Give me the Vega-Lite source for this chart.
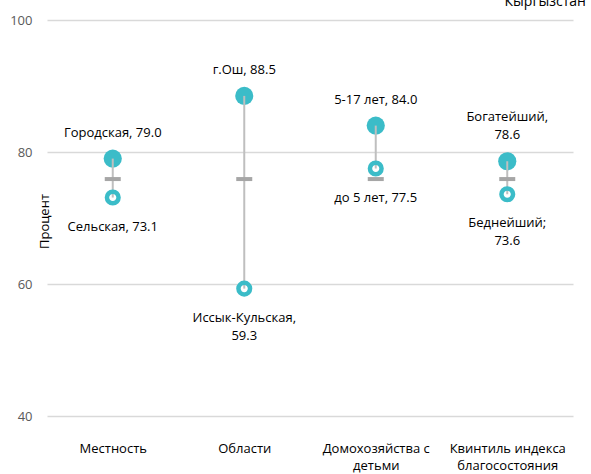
{
  "$schema": "https://vega.github.io/schema/vega-lite/v6.json",
  "width": 526,
  "height": 396,
  "autosize": {"type": "none"},
  "padding": {"left": 47, "top": 20, "right": 18, "bottom": 58},
  "background": "white",
  "data": {
    "values": [
      {"cat": "Местность", "high": 79.0, "low": 73.1, "national": 75.9, "highLine1": "", "highLine2": "Городская,  79.0", "lowLabel": "Сельская, 73.1"},
      {"cat": "Области", "high": 88.5, "low": 59.3, "national": 75.9, "highLine1": "", "highLine2": "г.Ош, 88.5", "lowLabel": ["Иссык-Кульская,", "59.3"]},
      {"cat": "Домохозяйства с детьми", "high": 84.0, "low": 77.5, "national": 75.9, "highLine1": "", "highLine2": "5-17 лет, 84.0", "lowLabel": "до 5 лет, 77.5"},
      {"cat": "Квинтиль индекса благосостояния", "high": 78.6, "low": 73.6, "national": 75.9, "highLine1": "Богатейший,", "highLine2": "78.6", "lowLabel": ["Беднейший;", "73.6"]}
    ]
  },
  "encoding": {
    "x": {
      "field": "cat",
      "type": "nominal",
      "sort": null,
      "scale": {"type": "point", "padding": 0.5},
      "axis": {
        "title": null,
        "domain": false,
        "ticks": false,
        "labelAngle": 0,
        "labelPadding": 26,
        "labelBaseline": "top",
        "labelFontSize": 13,
        "labelLineHeight": 17,
        "labelColor": "#000000",
        "labelFont": "Open Sans",
        "labelExpr": "datum.value === 'Домохозяйства с детьми' ? ['Домохозяйства  с', 'детьми'] : datum.value === 'Квинтиль индекса благосостояния' ? ['Квинтиль индекса', 'благосостояния'] : datum.value"
      }
    }
  },
  "layer": [
    {
      "mark": {"type": "circle", "size": 330, "color": "#3BBCC8", "opacity": 1},
      "encoding": {
        "y": {
          "field": "high",
          "type": "quantitative",
          "scale": {"domain": [40, 100], "nice": false, "zero": false},
          "axis": {
            "values": [40, 60, 80, 100],
            "title": "Процент",
            "titleFont": "Open Sans",
            "titleFontSize": 13,
            "titleFontWeight": "normal",
            "titleColor": "#000000",
            "titleAngle": -90,
            "titleX": 1,
            "titleY": 201,
            "titleBaseline": "alphabetic",
            "titleAlign": "center",
            "domain": false,
            "ticks": false,
            "labelPadding": 15,
            "labelFontSize": 13,
            "labelFont": "Open Sans",
            "labelColor": "#595959",
            "gridColor": "#D9D9D9",
            "gridWidth": 1.5
          }
        }
      }
    },
    {
      "mark": {"type": "rule", "color": "#BFBFBF", "strokeWidth": 2},
      "encoding": {
        "y": {"field": "high", "type": "quantitative"},
        "y2": {"field": "low"}
      }
    },
    {
      "mark": {"type": "point", "shape": "circle", "filled": false, "stroke": "#3BBCC8", "strokeWidth": 4.5, "size": 135, "opacity": 1},
      "encoding": {
        "y": {"field": "low", "type": "quantitative"}
      }
    },
    {
      "mark": {"type": "tick", "color": "#A6A6A6", "size": 16, "thickness": 4, "orient": "horizontal", "opacity": 1},
      "encoding": {
        "y": {"field": "national", "type": "quantitative"}
      }
    },
    {
      "mark": {"type": "text", "baseline": "bottom", "dy": -19, "fontSize": 13, "font": "Open Sans", "color": "#000000"},
      "encoding": {
        "y": {"field": "high", "type": "quantitative"},
        "text": {"field": "highLine2", "type": "nominal"}
      }
    },
    {
      "mark": {"type": "text", "baseline": "bottom", "dy": -37, "fontSize": 13, "font": "Open Sans", "color": "#000000"},
      "encoding": {
        "y": {"field": "high", "type": "quantitative"},
        "text": {"field": "highLine1", "type": "nominal"}
      }
    },
    {
      "mark": {"type": "text", "baseline": "top", "dy": 23, "fontSize": 13, "font": "Open Sans", "color": "#000000", "lineHeight": 18},
      "encoding": {
        "y": {"field": "low", "type": "quantitative"},
        "text": {"field": "lowLabel", "type": "nominal"}
      }
    },
    {
      "data": {"values": [{"note": "Кыргызстан", "cat": "Квинтиль индекса благосостояния", "pos": 102.1}]},
      "mark": {"type": "text", "baseline": "alphabetic", "align": "center", "dx": 38, "fontSize": 14, "font": "Open Sans", "color": "#000000", "clip": false},
      "encoding": {
        "y": {"field": "pos", "type": "quantitative"},
        "text": {"field": "note", "type": "nominal"}
      }
    }
  ],
  "config": {
    "view": {"stroke": null}
  }
}
